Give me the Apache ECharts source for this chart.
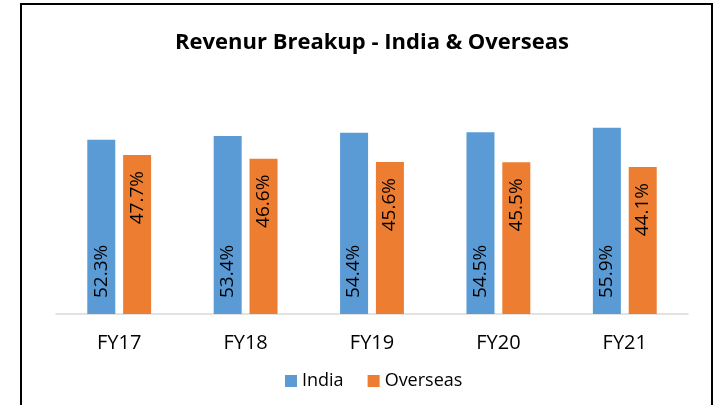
<!DOCTYPE html>
<html>
<head>
<meta charset="utf-8">
<script src="https://cdn.jsdelivr.net/npm/echarts@6/dist/echarts.min.js"></script>
<style>
  html, body { margin: 0; padding: 0; background: #fff; }
  #chart { width: 714px; height: 405px; }
</style>
</head>
<body>
<div id="chart"></div>
<script>
// revenue split per year, percent
var categories = ['FY17', 'FY18', 'FY19', 'FY20', 'FY21'];
var india = [52.3, 53.4, 54.4, 54.5, 55.9];
var overseas = [47.7, 46.6, 45.6, 45.5, 44.1];

var FONT = '"Open Sans", sans-serif';

var myChart = echarts.init(document.getElementById('chart'));

function pct(p) {
  return p.value.toFixed(1) + '%';
}

myChart.setOption({
  animation: false,
  color: ['#5B9BD5', '#ED7D31'],
  title: {
    text: 'Revenur Breakup - India & Overseas',
    left: 170,
    top: 27,
    textStyle: { fontFamily: FONT, fontWeight: 'bold', fontSize: 22, color: '#000' }
  },
  legend: {
    bottom: 10,
    left: 280,
    itemWidth: 12,
    itemHeight: 12,
    itemGap: 24,
    icon: 'rect',
    textStyle: { fontFamily: FONT, fontSize: 18, color: '#000' },
    data: ['India', 'Overseas']
  },
  grid: { left: 56, right: 26, top: 114, bottom: 91 },
  xAxis: {
    type: 'category',
    data: categories,
    axisLine: { lineStyle: { color: '#d9d9d9', width: 1.5 } },
    axisTick: { show: false },
    axisLabel: { fontFamily: FONT, fontSize: 20, color: '#000', margin: 19 }
  },
  yAxis: {
    type: 'value',
    min: 0,
    max: 60,
    show: false,
    splitLine: { show: false }
  },
  series: [
    {
      name: 'India',
      type: 'bar',
      data: india,
      barWidth: 28,
      barGap: '28%',
      label: {
        show: true,
        position: 'insideBottom',
        distance: 16,
        rotate: 90,
        align: 'left',
        verticalAlign: 'middle',
        formatter: pct,
        fontFamily: FONT,
        fontSize: 19,
        color: '#000'
      }
    },
    {
      name: 'Overseas',
      type: 'bar',
      data: overseas,
      barWidth: 28,
      label: {
        show: true,
        position: 'insideTop',
        distance: 16,
        rotate: 90,
        align: 'right',
        verticalAlign: 'middle',
        formatter: pct,
        fontFamily: FONT,
        fontSize: 19,
        color: '#000'
      }
    }
  ],
  graphic: [
    {
      type: 'rect',
      shape: { x: 21, y: 4, width: 691, height: 420 },
      style: { fill: null, stroke: '#000', lineWidth: 2 },
      silent: true
    }
  ]
});
</script>
</body>
</html>
